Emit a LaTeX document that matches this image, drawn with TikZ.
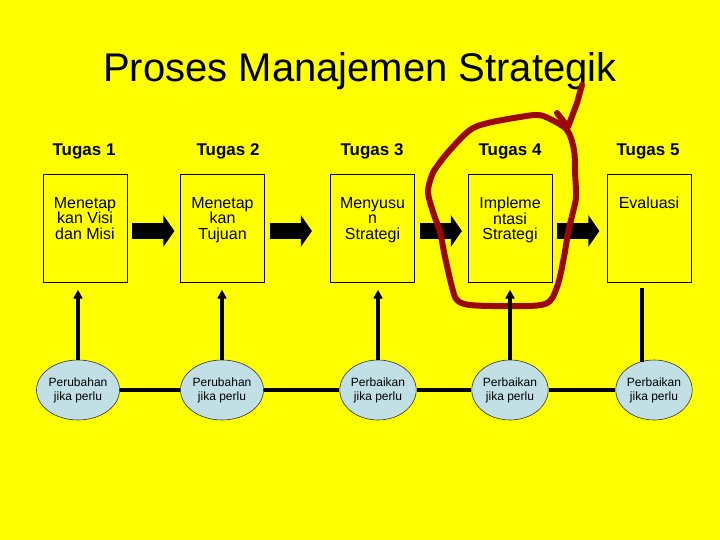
\documentclass[tikz,border=0pt]{standalone}
\usepackage{fontspec}
\setmainfont{Liberation Sans}
\usetikzlibrary{arrows.meta,calc,shapes.geometric}

\definecolor{bgyel}{RGB}{255,255,0}
\definecolor{ovalcol}{RGB}{192,224,230}
\definecolor{penred}{RGB}{155,8,8}

\begin{document}
\begin{tikzpicture}[x=1pt, y=-1pt,
          task/.style={draw=black, line width=0.8pt, minimum width=84pt, minimum height=108pt, inner sep=0},
          tasktxt/.style={anchor=north, align=center, inner sep=0, font=\fontsize{16}{15.5}\selectfont},
          head/.style={anchor=base, inner sep=0, font=\fontsize{17}{20}\selectfont\bfseries},
          oval/.style={ellipse, draw=black!80, line width=0.6pt, fill=ovalcol, minimum width=72pt,
                       minimum height=60pt, inner sep=0, align=center, font=\fontsize{12}{14}\selectfont},
          blockarrow/.style={line width=15pt, -{Triangle[width=31pt, length=11pt]}},
          uparrow/.style={line width=3.5pt, -{Triangle[width=9pt, length=9pt]}},
          link/.style={line width=3.5pt},
          pen/.style={penred, line width=6pt, line join=round, line cap=round}
        ]
        % ---- background ----
        \fill[bgyel] (0,0) rectangle (720,540);

        % ---- title ----
        \node[anchor=base, inner sep=0, font=\fontsize{40}{48}\selectfont] (title) at (360,82) {Proses Manajemen Strategik};

        % ---- task headers ----
        \node[head] (h1) at (84,156)  {Tugas 1};
        \node[head] (h2) at (228,156) {Tugas 2};
        \node[head] (h3) at (372,156) {Tugas 3};
        \node[head] (h4) at (510,156) {Tugas 4};
        \node[head] (h5) at (648,156) {Tugas 5};

        % ---- task boxes ----
        \node[task] (b1) at (85,228)    {};
        \node[task] (b2) at (222.5,228) {};
        \node[task] (b3) at (372.5,228) {};
        \node[task] (b4) at (510,228)   {};
        \node[task] (b5) at (649,228)   {};

        \node[tasktxt] (t1) at ($(b1.north)+(0,23.5)$) {Menetap\\kan Visi\\dan Misi};
        \node[tasktxt] (t2) at ($(b2.north)+(0,23.5)$) {Menetap\\kan\\Tujuan};
        \node[tasktxt] (t3) at ($(b3.north)+(0,23.5)$) {Menyusu\\n\\Strategi};
        \node[tasktxt] (t4) at ($(b4.north)+(0,23.5)$) {Impleme\\ntasi\\Strategi};
        \node[tasktxt] (t5) at ($(b5.north)+(0,23.5)$) {Evaluasi};

        % ---- block arrows between tasks ----
        \draw[blockarrow] ($(b1.east)+(5,3)$) -- ($(b1.east)+(47,3)$);
        \draw[blockarrow] ($(b2.east)+(5,3)$) -- ($(b2.east)+(47,3)$);
        \draw[blockarrow] ($(b3.east)+(5,3)$) -- ($(b3.east)+(47,3)$);
        \draw[blockarrow] ($(b4.east)+(5,3)$) -- ($(b4.east)+(47,3)$);

        % ---- hand-drawn mark round Tugas 4 ----
        \draw[pen] plot[smooth cycle, tension=0.55] coordinates {
          (567,130) (574,150) (575,172) (576,197) (573,212) (568,233) (564,257) (557,287)
          (545,304) (505,306) (470,305) (457,300) (452,287) (445,257) (440,232) (433,212)
          (428,192) (432,175) (438,165) (450,150) (470,130) (488,123) (520,117) (538,115) (550,119)};
        \draw[pen] (582,85) -- (577,103) -- (568,127) -- (557,113);

        % ---- feedback ovals ----
        \node[oval] (e1) at (78,390)  {Perubahan\\jika perlu};
        \node[oval] (e2) at (222,390) {Perubahan\\jika perlu};
        \node[oval] (e3) at (378,390) {Perbaikan\\jika perlu};
        \node[oval] (e4) at (510,390) {Perbaikan\\jika perlu};
        \node[oval] (e5) at (654,390) {Perbaikan\\jika perlu};

        \draw[link] (e1) -- (e2);
        \draw[link] (e2) -- (e3);
        \draw[link] (e3) -- (e4);
        \draw[link] (e4) -- (e5);

        % ---- arrows up to the tasks ----
        \draw[uparrow] (e1.north) -- ++(0,-70);
        \draw[uparrow] (e2.north) -- ++(0,-70);
        \draw[uparrow] (e3.north) -- ++(0,-70);
        \draw[uparrow] (e4.north) -- ++(0,-70);
        \draw[link] ($(e5.north)+(-12,2)$) -- ++(0,-74);

      \end{tikzpicture}
\end{document}
